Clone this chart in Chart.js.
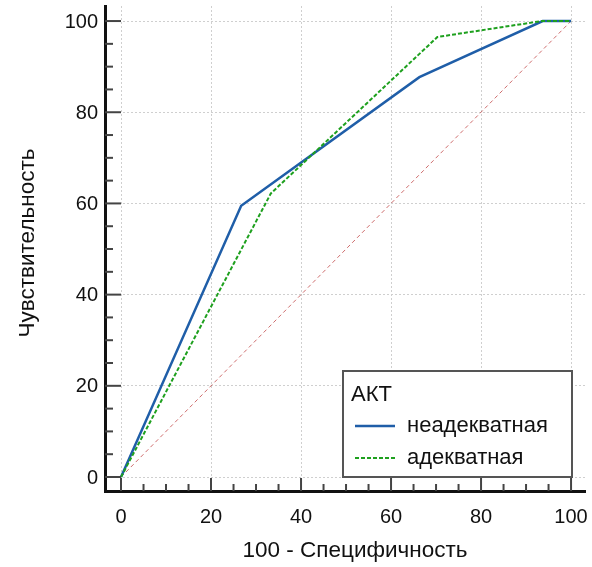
<!DOCTYPE html>
<html><head><meta charset="utf-8">
<script src="https://cdn.jsdelivr.net/npm/chart.js@4.4.0/dist/chart.umd.min.js"></script>
<style>html,body{margin:0;padding:0;background:#fff}#wrap{width:592px;height:567px}</style>
</head><body><div id="wrap"><canvas id="c" width="592" height="567"></canvas></div>
<script>
const legendTitle = 'АКТ';
const seriesNames = ['неадекватная', 'адекватная'];
const inadequateX = [0, 26.7, 66.3, 93.7, 100];
const inadequateY = [0, 59.5, 87.7, 100, 100];
const adequateX = [0, 33.3, 70.3, 93.5, 100];
const adequateY = [0, 62.2, 96.5, 100, 100];
const diagonalX = [0, 100];
const diagonalY = [0, 100];
const majorTicks = [0, 20, 40, 60, 80, 100];
const minorTicks = [5, 10, 15, 25, 30, 35, 45, 50, 55, 65, 70, 75, 85, 90, 95];
const xTitle = '100 - Специфичность';
const yTitle = 'Чувствительность';

const FONT = "'Liberation Sans', Arial, sans-serif";
const pts = (xs, ys) => xs.map((x, i) => ({x: x, y: ys[i]}));

const tickPlugin = {
  id: 'tickMarks',
  afterDraw(chart) {
    const ctx = chart.ctx, xs = chart.scales.x, ys = chart.scales.y, a = chart.chartArea;
    ctx.save();
    ctx.strokeStyle = '#444';
    ctx.lineWidth = 2;
    const draw = (v, major) => {
      const px = xs.getPixelForValue(v);
      ctx.beginPath(); ctx.moveTo(px, a.bottom); ctx.lineTo(px, a.bottom - (major ? 13 : 7)); ctx.stroke();
      const py = ys.getPixelForValue(v);
      ctx.beginPath(); ctx.moveTo(a.left, py); ctx.lineTo(a.left + (major ? 16 : 8), py); ctx.stroke();
    };
    majorTicks.forEach(v => draw(v, true));
    minorTicks.forEach(v => draw(v, false));
    ctx.fillStyle = '#111';
    ctx.font = '20px ' + FONT;
    ctx.textBaseline = 'middle';
    ctx.textAlign = 'center';
    majorTicks.forEach(v => ctx.fillText(String(v), xs.getPixelForValue(v), a.bottom + 26));
    ctx.textAlign = 'right';
    majorTicks.forEach(v => ctx.fillText(String(v), a.left - 7, ys.getPixelForValue(v) + 1));
    // axis titles
    ctx.font = '22.5px ' + FONT;
    ctx.textAlign = 'center';
    ctx.fillText(xTitle, 355, 551);
    ctx.save();
    ctx.translate(28, 243);
    ctx.rotate(-Math.PI / 2);
    ctx.fillText(yTitle, 0, 0);
    ctx.restore();
    ctx.restore();
  }
};

const legendPlugin = {
  id: 'boxLegend',
  afterDraw(chart) {
    const ctx = chart.ctx;
    const bx = 343, by = 371, bw = 229, bh = 106;
    ctx.save();
    ctx.fillStyle = '#fff';
    ctx.fillRect(bx, by, bw, bh);
    ctx.strokeStyle = '#555';
    ctx.lineWidth = 2;
    ctx.strokeRect(bx, by, bw, bh);
    ctx.fillStyle = '#111';
    ctx.font = '22px ' + FONT;
    ctx.textBaseline = 'middle';
    ctx.textAlign = 'left';
    ctx.fillText(legendTitle, bx + 8, by + 24);
    const rows = [by + 55, by + 87];
    chart.data.datasets.slice(0, 2).forEach((ds, i) => {
      const y = rows[i];
      ctx.save();
      ctx.strokeStyle = ds.borderColor;
      ctx.lineWidth = i === 0 ? 2.5 : 2;
      ctx.setLineDash(ds.borderDash || []);
      ctx.beginPath(); ctx.moveTo(bx + 12, y); ctx.lineTo(bx + 52, y); ctx.stroke();
      ctx.restore();
      ctx.fillStyle = '#111';
      ctx.fillText(ds.label, bx + 64, y);
    });
    ctx.restore();
  }
};

new Chart(document.getElementById('c'), {
  type: 'line',
  data: {
    datasets: [
      {label: seriesNames[0], data: pts(inadequateX, inadequateY), borderColor: '#1f5ea8', borderWidth: 2.5, pointRadius: 0, tension: 0, order: 2},
      {label: seriesNames[1], data: pts(adequateX, adequateY), borderColor: '#1ea01e', borderWidth: 2, borderDash: [4, 2], pointRadius: 0, tension: 0, order: 1},
      {label: 'diag', data: pts(diagonalX, diagonalY), borderColor: 'rgba(190,60,60,0.75)', borderWidth: 1, borderDash: [4, 3], pointRadius: 0, tension: 0, order: 3}
    ]
  },
  options: {
    responsive: false,
    animation: false,
    layout: {padding: {top: 6, right: 7, left: 0, bottom: 0}},
    plugins: {legend: {display: false}, tooltip: {enabled: false}},
    scales: {
      x: {
        type: 'linear', min: -3.56, max: 103.1,
        afterBuildTicks: s => { s.ticks = majorTicks.map(v => ({value: v})); },
        afterFit: s => { s.height = 76; },
        ticks: {display: false},
        grid: {color: '#cfcfcf', lineWidth: 1, drawTicks: false},
        border: {display: true, color: '#111', width: 3, dash: [2, 2]},
        title: {display: false}
      },
      y: {
        type: 'linear', min: -3.07, max: 103.3,
        afterBuildTicks: s => { s.ticks = majorTicks.map(v => ({value: v})); },
        afterFit: s => { s.width = 105; },
        ticks: {display: false},
        grid: {color: '#cfcfcf', lineWidth: 1, drawTicks: false},
        border: {display: true, color: '#111', width: 3, dash: [2, 2]},
        title: {display: false}
      }
    }
  },
  plugins: [tickPlugin, legendPlugin]
});
</script></body></html>
